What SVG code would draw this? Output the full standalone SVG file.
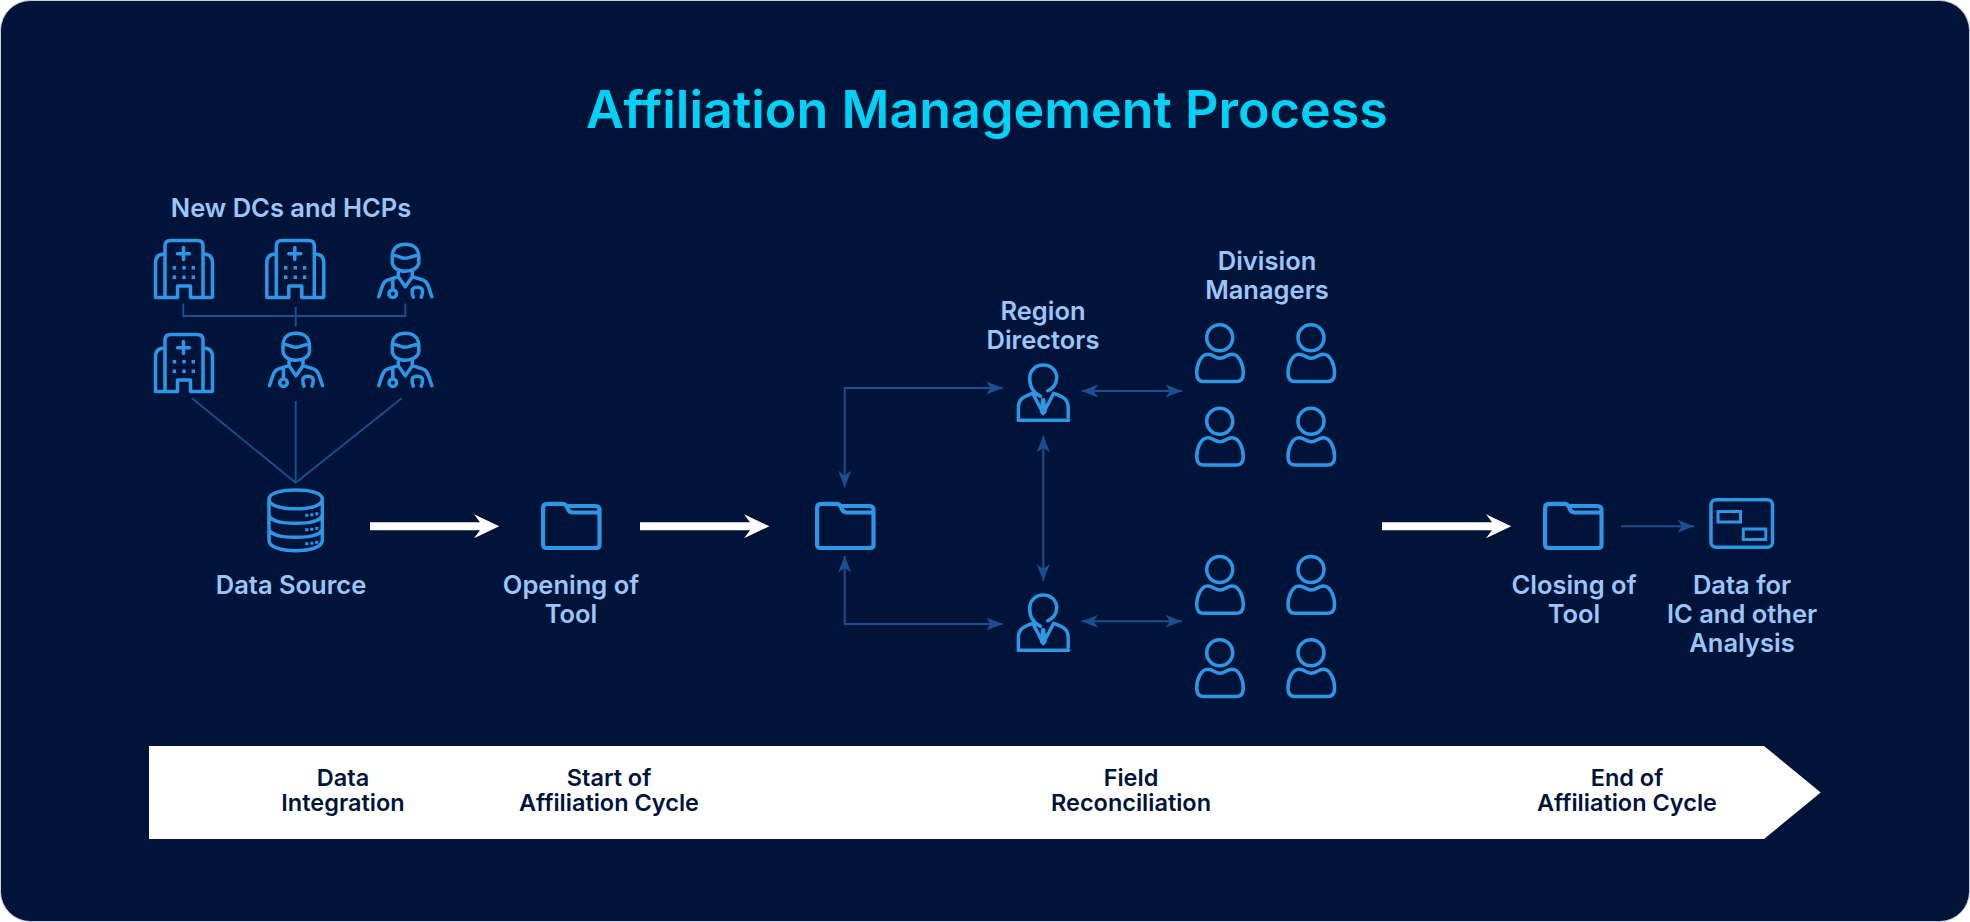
<svg xmlns="http://www.w3.org/2000/svg" width="1970" height="922" viewBox="0 0 1970 922">
<style>
text{font-family:Inter,"Noto Sans","Liberation Sans",sans-serif;text-anchor:middle}
.title{font-size:52px;font-weight:600;fill:#00D1F7}
.lab{font-size:25.500px;font-weight:600;fill:#9CC5FA}
.band{font-size:23.500px;font-weight:600;fill:#00143A}
.ic{fill:none;stroke:#2D97E6;stroke-width:3.500;stroke-linecap:round;stroke-linejoin:round}
.dot{fill:#2D97E6}
.c{fill:none;stroke:#1B4F90;stroke-width:1.900}
.w{fill:#fff}
.fold{stroke-width:4.200}
</style>
<defs>
<marker id="ah" viewBox="0 0 17 14" refX="16.500" refY="7" markerWidth="17" markerHeight="14" markerUnits="userSpaceOnUse" orient="auto-start-reverse"><path d="M0,0.500 L16.500,7 L0,13.500 L4.500,7Z" fill="#1B4F90"/></marker>
<symbol id="hosp" width="60" height="60" overflow="visible"><path class="ic" d="M1.500,58.500 H23.500 V47 H36.500 V58.500 H58 M11,58 V7 Q11,1.500 16.500,1.500 H43.500 Q49,1.500 49,7 V58 M10.500,15 Q1.500,15 1.500,24 V58 M49.500,15 Q58.500,15 58.500,24 V58 M29.500,8.500 V20.500 M23.500,14.700 H35.500"/><path class="dot" d="M18.700,27h3.400v3.400h-3.400zM28.300,27h3.400v3.400h-3.400zM37.600,27h3.400v3.400h-3.400zM18.700,36.500h3.400v3.400h-3.400zM28.300,36.500h3.400v3.400h-3.400zM37.600,36.500h3.400v3.400h-3.400z"/></symbol>
<symbol id="doc" width="56" height="56" overflow="visible"><path class="ic" d="M15,14 C15,5 21,1.500 28,1.500 C35,1.500 41.500,5 41.500,14 V19 C41.500,25 35,28.500 28,28.500 C21,28.500 15,25 15,19Z M15,12.500 C21,12.500 23,15.500 28,15.500 C33,15.500 35,12.500 41.500,12.500 M21,28 V34 L28,44 L35,34 V28 M21,34 L10,37.500 C6,39 5,43 1.500,54 M35,34 L46,37.500 C50,39 51,43 54.500,54 M15.500,37 V47"/><circle class="ic" cx="15.500" cy="51" r="3.800"/><path class="ic" d="M36,54.500 C33,46 36,44.500 40,44.500 C44,44.500 47,46 44,54.500"/></symbol>
<symbol id="folder" width="60" height="48" overflow="visible"><path class="ic fold" d="M6,1.800 H21 C24,1.800 25,3 26,5.500 C27,9 28.500,10.500 31,10.500 H58.200 V43 Q58.200,46 55,46 H5 Q1.800,46 1.800,43 V6 Q1.800,1.800 6,1.800Z M27,4 H54 Q58.200,4 58.200,8 V11"/></symbol>
<symbol id="mgr" width="53" height="59" overflow="visible"><path class="ic" d="M24,33 C17,30 13,24 13,15 C13,7 19,1.700 26.500,1.700 C34,1.700 40,7 40,14.500 C40,21 35.500,26 31,27.500 M1.700,55 V44 C1.700,36 7,33 16,30 L26.500,50 L37,30 C46,33 51.500,36 51.500,44 V54 M1.500,57 H52"/><path class="dot" d="M24.500,35 h4 l1.500,14 -3.500,3.500 -3.500,-3.500z"/></symbol>
<symbol id="usr" width="50" height="60" overflow="visible"><circle class="ic" cx="24.700" cy="14.500" r="13"/><path class="ic" d="M25,35 C20,35 18,31 13,31 C6,31 1.700,41 1.700,50 C1.700,55 4,58.300 9,58.300 H41 C46,58.300 48.300,55 48.300,50 C48.300,41 44,31 37,31 C32,31 30,35 25,35Z"/></symbol>
<path id="warrow" d="M0,-4 H110 L104,-12 L129.300,0 L104,12 L110,4 H0Z"/>
</defs>
<rect x="0.500" y="0.500" width="1969" height="921" rx="30" fill="#00143A" stroke="#C9CED8"/>
<g id="title"><text class="title" x="987" y="127.500">Affiliation Management Process</text></g>
<g id="connectors">
<path class="c" d="M183.300,303.500 V316 H405.300 V303.500 M295.700,307 V326.700 M192,398.300 L295.700,482.700 L401.700,398.300 M295.700,401 V482.700"/>
<path class="c" marker-start="url(#ah)" marker-end="url(#ah)" d="M844.700,487.300 V388 H1002.700"/>
<path class="c" marker-start="url(#ah)" marker-end="url(#ah)" d="M844.700,556 V624 H1002.700"/>
<path class="c" marker-start="url(#ah)" marker-end="url(#ah)" d="M1043.300,435.700 V580.700"/>
<path class="c" marker-start="url(#ah)" marker-end="url(#ah)" d="M1081.700,391 H1182"/>
<path class="c" marker-start="url(#ah)" marker-end="url(#ah)" d="M1081.700,621.300 H1182"/>
<path class="c" marker-end="url(#ah)" d="M1621,526.300 H1694"/>
<use href="#warrow" class="w" x="370" y="526.300"/>
<use href="#warrow" class="w" x="640" y="526.300"/>
<use href="#warrow" class="w" x="1382" y="526.300"/>
</g>
<g id="new-dcs-hcps">
<text class="lab" x="291" y="217">New DCs and HCPs</text>
<use href="#hosp" x="154" y="239"/><use href="#hosp" x="265.300" y="239"/><use href="#doc" x="377.300" y="242.700"/>
<use href="#hosp" x="154" y="333"/><use href="#doc" x="268" y="331.700"/><use href="#doc" x="377.300" y="331.700"/>
</g>
<g id="data-source">
<g transform="translate(267.300,488.300)"><path class="ic" d="M1.700,11 C1.700,5 13,1.700 28.300,1.700 C44,1.700 55,5 55,11 C55,17 44,20.500 28.300,20.500 C13,20.500 1.700,17 1.700,11Z M1.700,11 V52 C1.700,58.500 13,62.500 28.300,62.500 C44,62.500 55,58.500 55,52 V11 M1.700,26 C1.700,32 13,35 28.300,35 C44,35 55,32 55,26 M1.700,40 C1.700,46 13,49 28.300,49 C44,49 55,46 55,40"/>
<path class="dot" d="M38,25.500h3v3h-3zM43,25h3v3h-3zM48,24h3v3h-3zM38,40h3v3h-3zM43,39.500h3v3h-3zM48,38.500h3v3h-3zM38,54h3v3h-3zM43,53.500h3v3h-3zM48,52.500h3v3h-3z"/></g>
<text class="lab" x="291" y="594">Data Source</text>
</g>
<g id="opening"><use href="#folder" x="541.300" y="502"/><text class="lab" x="571" y="594">Opening of</text><text class="lab" x="571" y="622.700">Tool</text></g>
<g id="hub-folder"><use href="#folder" x="815.300" y="502"/></g>
<g id="region-directors"><text class="lab" x="1043" y="320">Region</text><text class="lab" x="1043" y="349">Directors</text><use href="#mgr" x="1016.700" y="363.300"/><use href="#mgr" x="1016.700" y="593.300"/></g>
<g id="division-managers"><text class="lab" x="1267" y="270">Division</text><text class="lab" x="1267" y="298.700">Managers</text>
<use href="#usr" x="1195" y="323.300"/><use href="#usr" x="1286.300" y="323.300"/><use href="#usr" x="1195" y="406.700"/><use href="#usr" x="1286.300" y="406.700"/>
<use href="#usr" x="1195" y="555"/><use href="#usr" x="1286.300" y="555"/><use href="#usr" x="1195" y="638.300"/><use href="#usr" x="1286.300" y="638.300"/></g>
<g id="closing"><use href="#folder" x="1543.300" y="502"/><text class="lab" x="1574" y="594">Closing of</text><text class="lab" x="1574" y="622.700">Tool</text></g>
<g id="data-analysis"><rect class="ic" x="1711" y="499.700" width="61.500" height="47.500" rx="5"/><rect class="ic" style="stroke-width:3;stroke-linejoin:miter" x="1718" y="511.500" width="22.500" height="10.500"/><rect class="ic" style="stroke-width:3;stroke-linejoin:miter" x="1743.300" y="529" width="22.500" height="10.500"/>
<text class="lab" x="1742" y="594">Data for</text><text class="lab" x="1742" y="622.700">IC and other</text><text class="lab" x="1742" y="651.700">Analysis</text></g>
<g id="timeline"><path class="w" d="M149,746 H1764 L1820.700,792.500 L1764,839 H149Z"/>
<text class="band" x="343" y="785.500">Data</text><text class="band" x="343" y="810.500">Integration</text>
<text class="band" x="609" y="785.500">Start of</text><text class="band" x="609" y="810.500">Affiliation Cycle</text>
<text class="band" x="1131" y="785.500">Field</text><text class="band" x="1131" y="810.500">Reconciliation</text>
<text class="band" x="1627" y="785.500">End of</text><text class="band" x="1627" y="810.500">Affiliation Cycle</text></g>
</svg>
